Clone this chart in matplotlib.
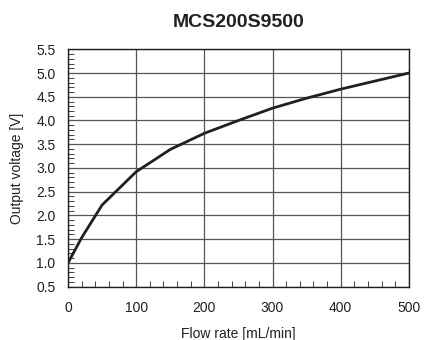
import matplotlib
matplotlib.use('Agg')
import matplotlib.pyplot as plt
from matplotlib.ticker import MultipleLocator

plt.rcParams['font.family'] = ['Liberation Sans', 'DejaVu Sans']

# Data
flow = [0, 20, 50, 100, 150, 200, 250, 300, 350, 400, 500]
voltage = [1.0, 1.53, 2.22, 2.92, 3.39, 3.73, 4.0, 4.26, 4.47, 4.66, 5.0]

fig = plt.figure(figsize=(4.25, 3.4), dpi=100)
ax = fig.add_axes([0.16, 0.157, 0.802, 0.698])

ax.plot(flow, voltage, color='#231f20', linewidth=2, zorder=3)

ax.set_xlim(0, 500)
ax.set_ylim(0.5, 5.5)
ax.xaxis.set_major_locator(MultipleLocator(100))
ax.xaxis.set_minor_locator(MultipleLocator(20))
ax.yaxis.set_major_locator(MultipleLocator(0.5))
ax.yaxis.set_minor_locator(MultipleLocator(0.1))
ax.yaxis.set_major_formatter(matplotlib.ticker.FormatStrFormatter('%.1f'))

ax.grid(True, which='major', color='#555555', linewidth=0.9)
ax.tick_params(which='both', direction='in', labelsize=10, colors='#231f20')
ax.tick_params(axis='x', which='major', length=0, pad=10)
ax.tick_params(axis='y', which='major', length=0, pad=9)
ax.tick_params(which='minor', length=4)
for s in ax.spines.values():
    s.set_color('#231f20')
    s.set_linewidth(1)

ax.set_xlabel('Flow rate [mL/min]', fontsize=10, color='#231f20', labelpad=9)
ax.set_ylabel('Output voltage [V]', fontsize=10, color='#231f20', labelpad=9)
ax.set_title('MCS200S9500', fontsize=14, fontweight='bold', pad=16, color='#231f20')

fig.savefig('out.png', dpi=100)
